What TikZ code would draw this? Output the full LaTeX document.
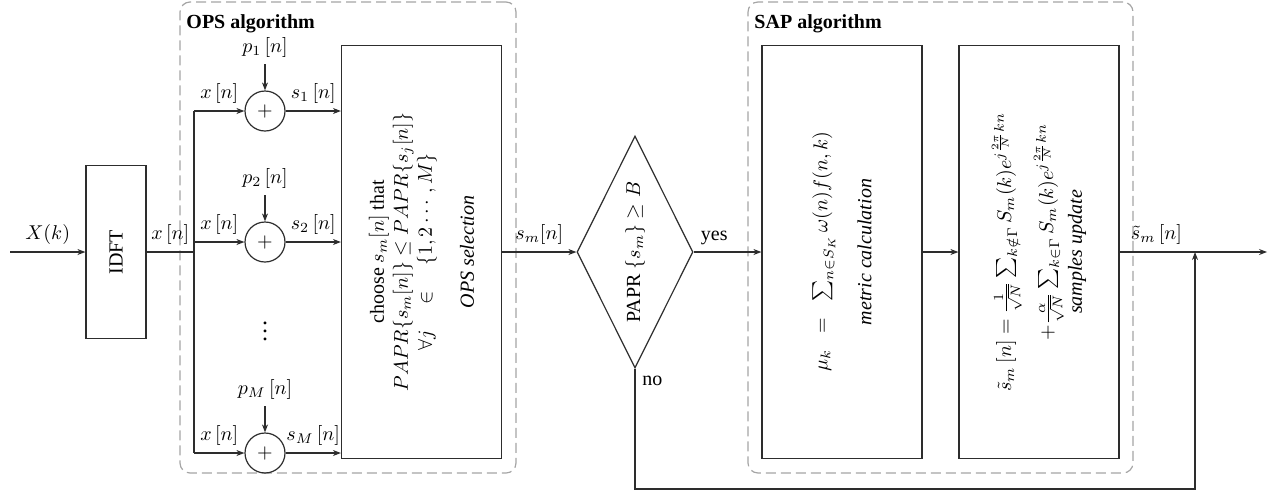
\documentclass[tikz,border=0pt]{standalone}
\usepackage{amsmath}
\usepackage{amssymb}
\usepackage{fontspec}
\setmainfont{Liberation Serif}
\usetikzlibrary{arrows.meta}
\usetikzlibrary{positioning}
\usetikzlibrary{shapes.geometric}
\definecolor{line gray}{RGB}{45,45,45}
\definecolor{frame gray}{RGB}{165,165,165}

\begin{document}
\begin{tikzpicture}[x=0.5pt, y=0.5pt,
		block box/.style={draw=line gray, line width=0.6pt, rectangle, inner sep=0pt, minimum width=80pt, minimum height=206.5pt},
		sum circle/.style={draw=line gray, line width=0.6pt, circle, inner sep=0pt, minimum size=20pt},
		decision/.style={draw=line gray, line width=0.6pt, diamond, inner sep=0pt, minimum width=58pt, minimum height=116pt},
		algo frame/.style={draw=frame gray, line width=0.6pt, dash pattern=on 5pt off 2.5pt, rounded corners=5pt, rectangle, inner sep=0pt, minimum height=235.5pt},
		algo title/.style={anchor=north west, font=\bfseries},
		box text/.style={rotate=90, align=center},
		wire/.style={draw=line gray, line width=0.6pt},
		signal/.style={wire, -{Stealth[length=4pt, width=3pt]}},
	]
	\useasboundingbox (0,0) rectangle (1278,-494);

	\node[algo frame, minimum width=168pt] (opsframe) at (348,-237.5) {};
	\node[algo frame, minimum width=192.5pt] (sapframe) at (940.5,-237.5) {};
	\node[algo title] (opstitle) at ([yshift=-3pt]opsframe.north west) {OPS algorithm};
	\node[algo title] (saptitle) at ([yshift=-3pt]sapframe.north west) {SAP algorithm};

	\coordinate (in) at (10,-252);
	\node[block box, minimum width=30pt, minimum height=86.5pt] (idft) at (116,-252) {};
	\node[box text] (idfttext) at (idft) {IDFT};
	\coordinate (split) at (194,-252);

	\node[block box] (ops) at (421.5,-252) {};
	\node[box text] (opstext) at (ops) {choose $s_m[n]$ that\\
		$PAPR\{s_m[n]\} \leq PAPR\{s_j[n]\}$\\
		$\forall j \quad\in\quad \{1,2\cdots,M\}$\\[9pt]
		\textit{OPS selection}};

	\node[decision] (check) at (635,-252) {};
	\node[box text] (checktext) at (check) {PAPR $\{s_m\} \geq B$};

	\node[block box] (metric) at (842,-252) {};
	\node[box text] (metrictext) at (metric) {$\mu_k \;\;=\;\; \sum_{n\in S_K}\omega(n)f(n,k)$\\[10pt]
		\textit{metric calculation}};

	\node[block box] (update) at (1039,-252) {};
	\node[box text] (updatetext) at (update) {$\tilde{s}_m\left[n\right] = \frac{1}{\sqrt{N}}\sum_{k\notin\Gamma} S_m(k)e^{j\frac{2\pi}{N}kn}$\\[5pt]
		\hspace*{20pt}$+\frac{\alpha}{\sqrt{N}}\sum_{k\in\Gamma} S_m(k)e^{j\frac{2\pi}{N}kn}$\\[1pt]
		\textit{samples update}};

	\coordinate (join) at (1195,-252);
	\coordinate (out) at (1267,-252);
	\coordinate (back) at (1195,-489);
	\node[font=\large] (dots) at (265,-325) {$\vdots$};

	\draw[signal] (in) -- node[above] (xk) {$X(k)$} (idft);
	\draw[wire] (idft) -- node[above] (xn) {$x\left[n\right]$} (split);
	\draw[wire] (split |- 0,-111) -- (split |- 0,-453);

	\foreach \i/\y in {1/111, 2/242, M/453} {
		\node[sum circle] (sum\i) at (265,-\y) {$+$};
		\node (p\i) at (265,-\y+64) {$p_{\i}\left[n\right]$};
		\draw[signal] (p\i) -- (sum\i);
		\draw[signal] (split |- sum\i) -- node[above] (x\i) {$x\left[n\right]$} (sum\i);
		\draw[signal] (sum\i) -- node[above] (s\i) {$s_{\i}\left[n\right]$} (ops.west |- sum\i);
	}

	\draw[signal] (ops) -- node[above] (smn) {$s_m[n]$} (check);
	\draw[signal] (check) -- node[pos=0, above right] (yes) {yes} (metric);
	\draw[signal] (metric) -- (update);
	\draw[signal] (update) -- node[pos=0.25, above] (stilde) {$\tilde{s}_m\left[n\right]$} (out);
	\draw[signal] (check.south) -- node[pos=0, below right] (no) {no} (check.south |- back) -- (back) -- (join);
\end{tikzpicture}
\end{document}
